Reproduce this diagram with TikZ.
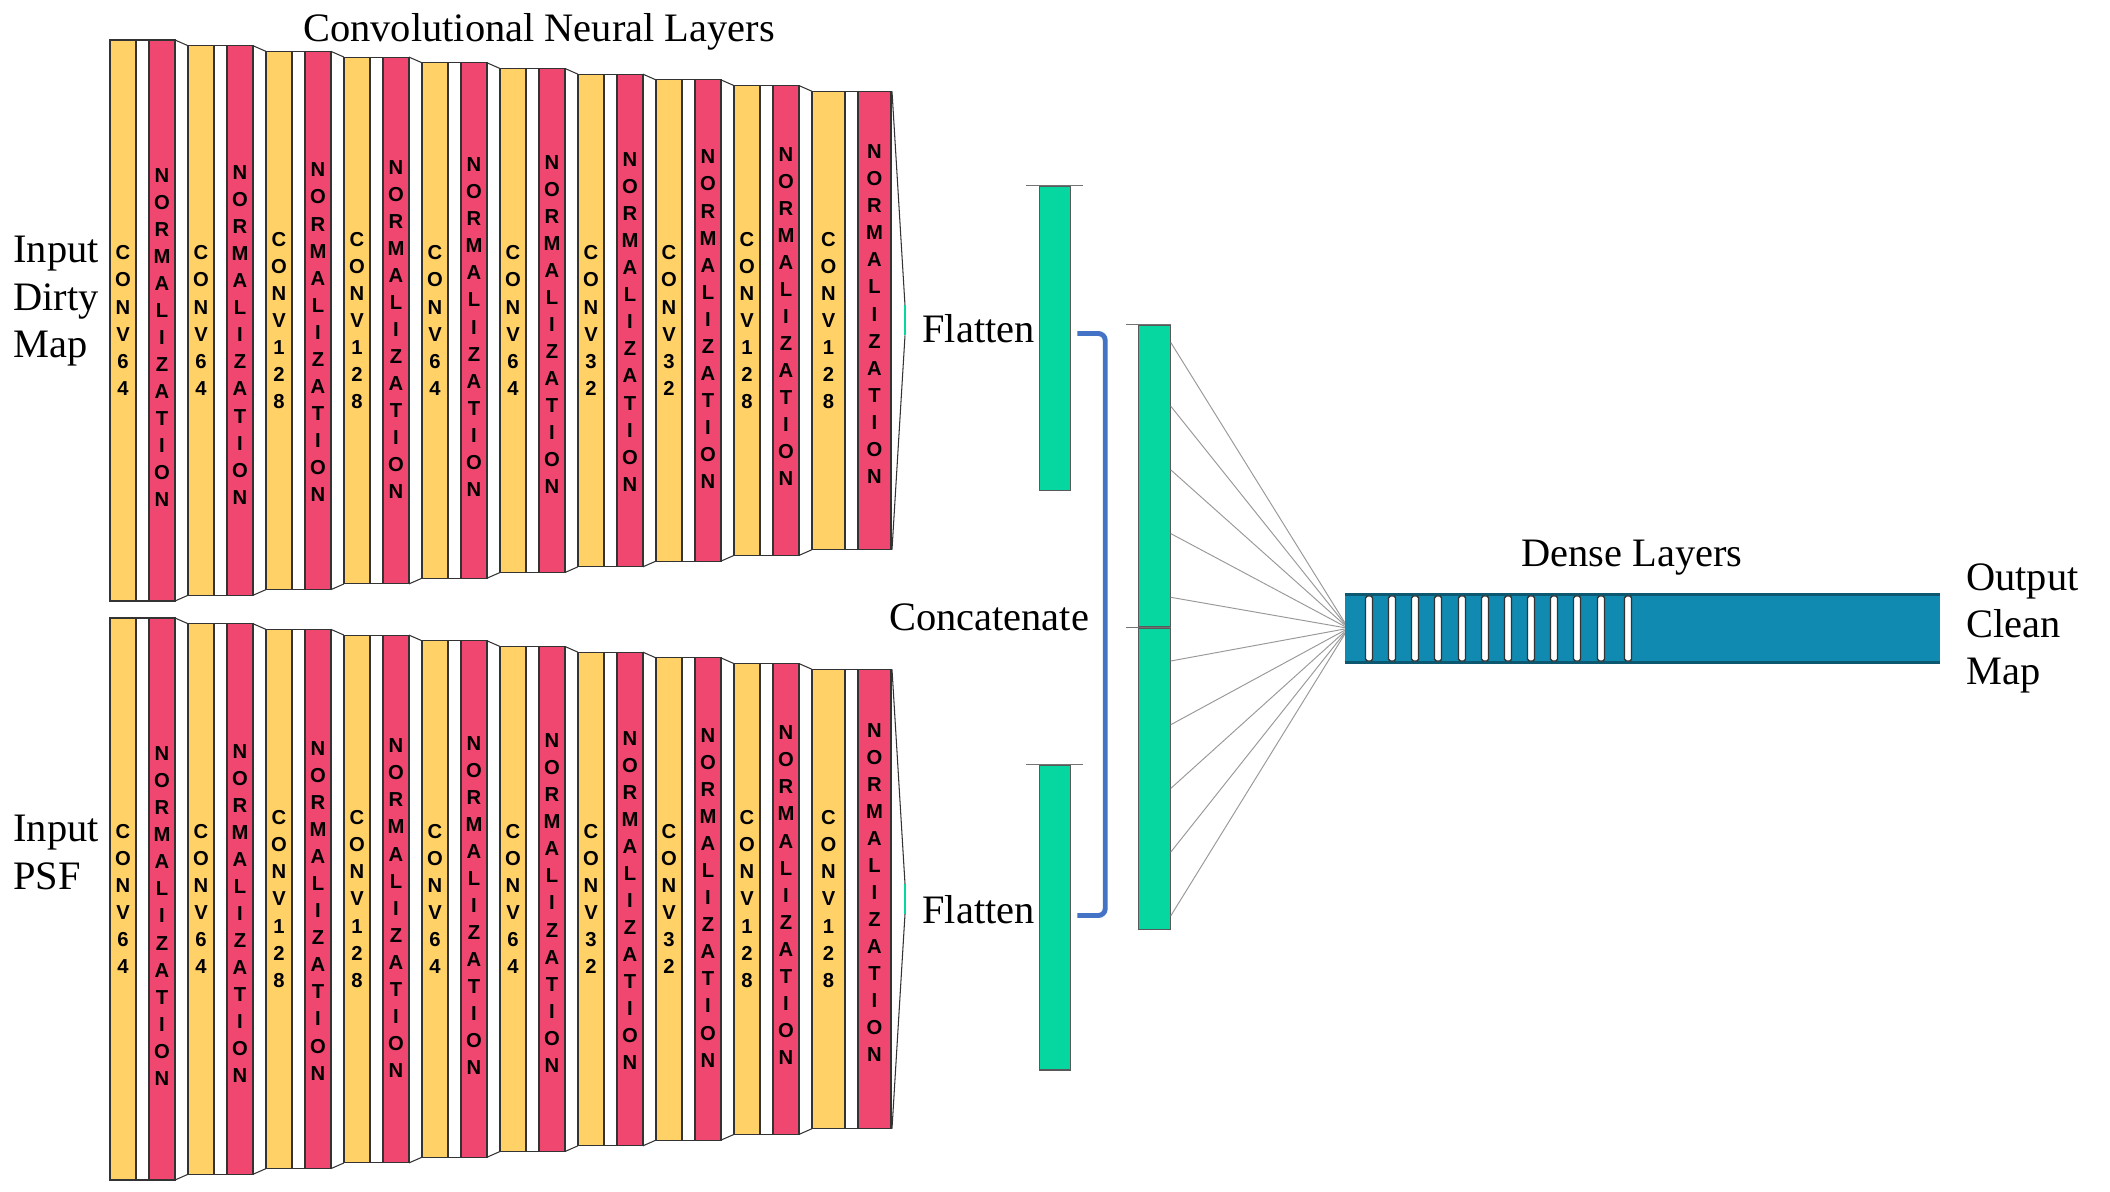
\documentclass[tikz,border=0pt]{standalone}
\usepackage{fontspec}
\setmainfont{Liberation Serif}
\newfontfamily\layerfont{Liberation Sans}
\usetikzlibrary{positioning,calc}

\definecolor{convyellow}{HTML}{FFD166}
\definecolor{normred}{HTML}{EF476F}
\definecolor{flatgreen}{HTML}{06D6A0}
\definecolor{denseblue}{HTML}{118AB2}
\definecolor{densedark}{HTML}{0B5870}
\definecolor{linkblue}{HTML}{4472C4}

\newcommand{\normword}{N\\O\\R\\M\\A\\L\\I\\Z\\A\\T\\I\\O\\N}

\begin{document}
\begin{tikzpicture}[x=0.02cm, y=-0.02cm,
    layeredge/.style={draw=black!80, line width=0.6pt},
    conv/.style={layeredge, fill=convyellow},
    norm/.style={layeredge, fill=normred},
    gapbox/.style={layeredge, fill=white},
    lettering/.style={font=\layerfont\bfseries\fontsize{11.5}{15.4}\selectfont, align=center, inner sep=0pt},
    netlabel/.style={font=\fontsize{23}{27}\selectfont, inner sep=0pt},
    bar/.style={draw=black!65, line width=0.6pt, fill=flatgreen, minimum width=0.63cm, inner sep=0pt},
    tick/.style={draw=black!55, line width=0.4pt},
    fan/.style={draw=black!40, line width=0.55pt},
    slit/.style={draw=black!80, fill=white, line width=0.8pt, rounded corners=1pt},
    bracket/.style={draw=linkblue, line width=2.8pt, rounded corners=0.14cm}]
    \useasboundingbox (0,0) rectangle (2110,1192);

    % two convolutional branches
    \foreach \blk/\ytop/\ybot in {a/40/601, b/618/1180} {
        \foreach \lab [count=\i from 0] in {C\\O\\N\\V\\6\\4, C\\O\\N\\V\\6\\4, C\\O\\N\\V\\1\\2\\8, C\\O\\N\\V\\1\\2\\8, C\\O\\N\\V\\6\\4, C\\O\\N\\V\\6\\4, C\\O\\N\\V\\3\\2, C\\O\\N\\V\\3\\2, C\\O\\N\\V\\1\\2\\8, C\\O\\N\\V\\1\\2\\8} {
            \pgfmathsetmacro\xa{110+78*\i}
            \pgfmathsetmacro\lw{\i<9 ? 26 : 33}
            \pgfmathsetmacro\ya{\ytop+5.7*\i}
            \pgfmathsetmacro\yb{\ybot-5.7*\i}
            \draw[conv] (\xa,\ya) rectangle ({\xa+\lw},\yb);
            \draw[gapbox] ({\xa+\lw},\ya) rectangle ({\xa+\lw+13},\yb);
            \draw[norm] ({\xa+\lw+13},\ya) rectangle ({\xa+2*\lw+13},\yb);
            \ifnum\i<9
                \draw[layeredge] ({\xa+65},\ya) -- ({\xa+78},{\ya+5.7});
                \draw[layeredge] ({\xa+65},\yb) -- ({\xa+78},{\yb-5.7});
            \fi
            \node[lettering] (conv-\blk-\i) at ({\xa+\lw/2},{(\ya+\yb)/2}) {\lab};
            \node[lettering] (norm-\blk-\i) at ({\xa+1.5*\lw+13},{(\ya+\yb)/2+17-2.6*\i}) {\normword};
        }
        \pgfmathsetmacro\ymid{(\ytop+\ybot)/2}
        \draw[layeredge] (892,{\ytop+51.3}) -- (905,{\ymid-15}) (905,{\ymid+15}) -- (892,{\ybot-51.3});
        \draw[flatgreen, line width=1pt] (905,{\ymid-15}) -- (905,{\ymid+15});
    }

    \node[netlabel, anchor=base west] (title) at (303,42) {Convolutional Neural Layers};
    \node[netlabel, anchor=north west, align=left] (inDirty) at (13,236) {Input\\Dirty\\Map};
    \node[netlabel, anchor=north west, align=left] (inPSF) at (13,815) {Input\\PSF};

    % flatten and concatenate
    \node[bar, minimum height=6.1cm] (flatA) at (1055,338.5) {};
    \node[bar, minimum height=6.1cm] (flatB) at (1055,917.5) {};
    \draw[tick] ($(flatA.north west)+(-13,0)$) -- ($(flatA.north east)+(12,0)$);
    \draw[tick] ($(flatB.north west)+(-13,0)$) -- ($(flatB.north east)+(12,0)$);
    \node[netlabel, anchor=base west] (flatTxtA) at (922,343) {Flatten};
    \node[netlabel, anchor=base west] (flatTxtB) at (922,923) {Flatten};

    \node[bar, minimum height=6.04cm] (catA) at (1154.5,476) {};
    \node[bar, minimum height=6.04cm, below=0pt of catA] (catB) {};
    \draw[tick] ($(catA.north west)+(-12,0)$) -- (catA.north east);
    \draw[tick] ($(catB.north west)+(-12,0)$) -- (catB.north east);
    \node[netlabel, anchor=base west] (catTxt) at (889,630) {Concatenate};
    \draw[bracket] ($(flatA.east)+(6,-5)$) -- ++(28,0) |- ($(flatB.east)+(6,-2)$);

    % dense part
    \node[fill=denseblue, minimum width=11.9cm, minimum height=1.34cm, inner sep=0pt] (dense) at (1642.5,628.5) {};
    \draw[densedark, line width=1.6pt] (dense.north west) -- (dense.north east);
    \draw[densedark, line width=1.6pt] (dense.south west) -- (dense.south east);
    \foreach \sx in {1369,1392,1415,1438,1462,1485,1508,1531,1554,1577,1601,1628}
        \draw[slit] ({\sx-3.5},596) rectangle ({\sx+3.5},661);
    \foreach \k in {0,...,9}
        \draw[fan] ($(catA.north east)+(0,{18+63.7*\k})$) -- ($(dense.west)+(0,{-6+1.3*\k})$);
    \node[netlabel, anchor=base] (denseTxt) at (1632,567) {Dense Layers};
    \node[netlabel, anchor=north west, align=left] (outClean) at (1966,563) {Output\\Clean\\Map};
\end{tikzpicture}
\end{document}
